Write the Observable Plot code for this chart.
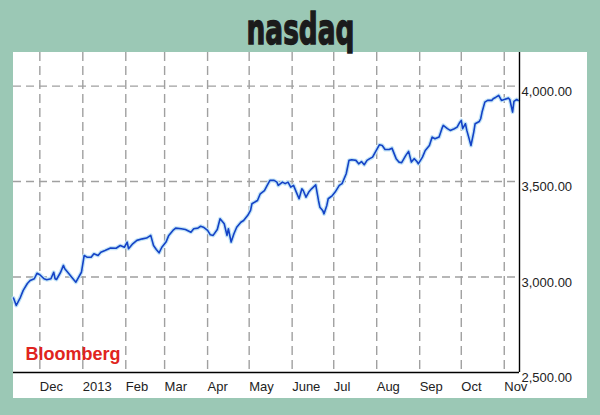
<!DOCTYPE html>
<html><head><meta charset="utf-8">
<script src="https://cdn.jsdelivr.net/npm/d3@7"></script>
<script src="https://cdn.jsdelivr.net/npm/@observablehq/plot@0.6"></script>
<style>
html,body{margin:0;padding:0;}
body{width:600px;height:415px;background:#9bc8b5;position:relative;overflow:hidden;font-family:"Liberation Sans",Arial,sans-serif;}
#title{position:absolute;left:0;top:0;z-index:2;}
#chart{position:absolute;left:13px;top:52px;width:574px;height:346px;background:#fff;z-index:1;}
</style></head><body>
<div id="chart"></div>
<svg id="title" width="600" height="56"><text x="300.5" y="43.5" text-anchor="middle" textLength="108" lengthAdjust="spacingAndGlyphs" font-family="DejaVu Sans" font-weight="bold" font-size="42" fill="#1b1b1b" stroke="#1b1b1b" stroke-width="1.4">nasdaq</text></svg>
<script>
const dates = [
"2012-11-12","2012-11-14","2012-11-17","2012-11-19","2012-11-22","2012-11-24","2012-11-27","2012-11-29",
"2012-12-01","2012-12-04","2012-12-06","2012-12-09","2012-12-11","2012-12-12","2012-12-13","2012-12-16","2012-12-18","2012-12-19","2012-12-22","2012-12-24","2012-12-27","2012-12-31",
"2013-01-02","2013-01-04","2013-01-07","2013-01-09","2013-01-12","2013-01-14","2013-01-17","2013-01-21","2013-01-25","2013-01-28","2013-01-31",
"2013-02-02","2013-02-03","2013-02-06","2013-02-09","2013-02-13","2013-02-16","2013-02-19","2013-02-21","2013-02-23","2013-02-25","2013-02-27",
"2013-03-02","2013-03-04","2013-03-07","2013-03-09","2013-03-13","2013-03-16","2013-03-20","2013-03-22","2013-03-25","2013-03-27","2013-03-29",
"2013-04-01","2013-04-03","2013-04-05","2013-04-08","2013-04-10","2013-04-13","2013-04-15","2013-04-16","2013-04-18","2013-04-20","2013-04-22","2013-04-25","2013-04-27","2013-04-30",
"2013-05-02","2013-05-03","2013-05-07","2013-05-09","2013-05-12","2013-05-14","2013-05-16","2013-05-19","2013-05-21","2013-05-22","2013-05-25","2013-05-27","2013-05-29","2013-05-31",
"2013-06-02","2013-06-04","2013-06-06","2013-06-08","2013-06-09","2013-06-11","2013-06-13","2013-06-15","2013-06-18","2013-06-20","2013-06-21","2013-06-23","2013-06-24","2013-06-26","2013-06-27","2013-06-30",
"2013-07-02","2013-07-05","2013-07-07","2013-07-10","2013-07-12","2013-07-14","2013-07-17","2013-07-19","2013-07-21","2013-07-23","2013-07-25","2013-07-27","2013-07-29","2013-07-31",
"2013-08-03","2013-08-05","2013-08-07","2013-08-10","2013-08-12","2013-08-15","2013-08-17","2013-08-19","2013-08-22","2013-08-24","2013-08-26","2013-08-28","2013-08-30","2013-08-31",
"2013-09-03","2013-09-05","2013-09-08","2013-09-10","2013-09-12","2013-09-15","2013-09-17","2013-09-18","2013-09-21","2013-09-23","2013-09-26","2013-09-28","2013-09-30",
"2013-10-01","2013-10-02","2013-10-04","2013-10-05","2013-10-06","2013-10-08","2013-10-10","2013-10-11","2013-10-14","2013-10-15","2013-10-16","2013-10-18","2013-10-20","2013-10-23","2013-10-24","2013-10-26","2013-10-28","2013-10-30",
"2013-11-01","2013-11-04","2013-11-05","2013-11-07","2013-11-08","2013-11-10","2013-11-11"
];
const closes = [
2890,2851,2894,2930,2966,2982,2991,3020,
3012,2991,2986,2991,3025,2991,2987,3025,3061,3043,3017,2999,2973,3025,
3113,3104,3104,3122,3113,3130,3139,3152,3151,3165,3156,
3183,3148,3174,3192,3200,3204,3218,3165,3144,3127,3156,
3183,3218,3244,3256,3253,3249,3235,3253,3256,3266,3261,
3244,3221,3218,3249,3305,3279,3218,3253,3183,3227,3261,3287,3296,3323,
3349,3384,3401,3436,3453,3480,3506,3506,3497,3480,3497,3489,3497,3471,
3480,3445,3410,3462,3453,3418,3445,3462,3483,3401,3366,3349,3331,3375,3410,3427,
3445,3480,3489,3541,3611,3614,3611,3593,3605,3588,3611,3620,3628,3654,
3693,3689,3668,3668,3675,3620,3602,3599,3637,3658,3602,3620,3605,3593,
3628,3663,3689,3733,3724,3733,3777,3794,3777,3768,3777,3785,3811,
3820,3777,3803,3768,3742,3689,3759,3803,3815,3829,3864,3916,3925,3925,3934,3942,3951,3925,
3930,3937,3930,3864,3920,3930,3925
];
const monthTicks = ["2012-12-01","2013-01-01","2013-02-01","2013-03-01","2013-04-01","2013-05-01","2013-06-01","2013-07-01","2013-08-01","2013-09-01","2013-10-01","2013-11-01"];
const monthLabels = ["Dec","2013","Feb","Mar","Apr","May","June","Jul","Aug","Sep","Oct","Nov"];
const yTicks = [2500, 3000, 3500, 4000];
const xDomain = ["2012-11-12", "2013-11-12"];
const yDomain = [2500, 4176];
const sourceLabel = ["Bloomberg"];

const parse = s => new Date(s + "T00:00:00Z");
const data = dates.map((d, i) => ({date: parse(d), close: closes[i]}));
const ticks = monthTicks.map(parse);
const labelMap = new Map(ticks.map((t, i) => [+t, monthLabels[i]]));
const xd = xDomain.map(parse);

const chart = Plot.plot({
  width: 574, height: 346,
  marginTop: 0, marginLeft: 0, marginRight: 68, marginBottom: 26,
  style: {background: "#fff", fontFamily: "'Liberation Sans', Arial, sans-serif", fontSize: "13px", color: "#222", overflow: "visible"},
  x: {type: "utc", domain: xd},
  y: {domain: yDomain},
  marks: [
    Plot.ruleX(ticks, {stroke: "#a0a0a0", strokeWidth: 1.4, strokeDasharray: "9,5"}),
    Plot.ruleY(yTicks.slice(1), {stroke: "#a0a0a0", strokeWidth: 1.4, strokeDasharray: "8,5"}),
    Plot.lineY(data, {x: "date", y: "close", stroke: "#c2e4f7", strokeWidth: 4}),
    Plot.lineY(data, {x: "date", y: "close", stroke: "#1442c6", strokeWidth: 1.6}),
    Plot.ruleY([yDomain[0]], {stroke: "#000", strokeWidth: 1.4}),
    Plot.ruleX([xd[1]], {stroke: "#000", strokeWidth: 1.4}),
    Plot.axisX({ticks, tickFormat: d => labelMap.get(+d), tickSize: 0, tickPadding: 9, textAnchor: "start", label: null}),
    Plot.axisY({anchor: "right", ticks: yTicks, tickFormat: d3.format(",.2f"), tickSize: 0, tickPadding: 2, dy: 5.5, label: null}),
    Plot.text(sourceLabel, {frameAnchor: "bottom-left", text: d => d, dx: 12, dy: -13, textAnchor: "start", lineAnchor: "bottom", fill: "#e02420", fontWeight: "bold", fontSize: 18})
  ]
});
document.getElementById("chart").appendChild(chart);
</script>
</body></html>
